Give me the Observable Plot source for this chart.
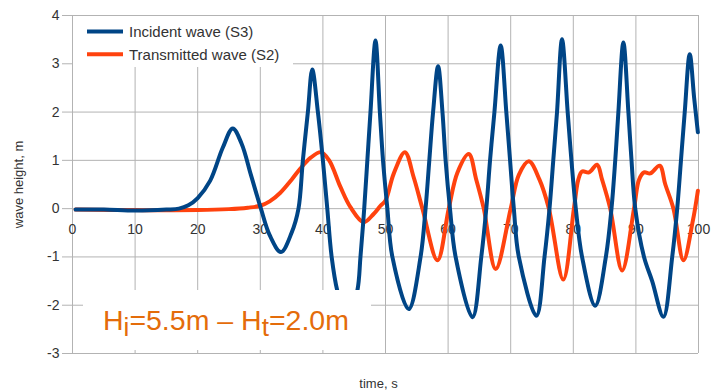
<!DOCTYPE html>
<html>
<head>
<meta charset="utf-8">
<script src="https://cdn.jsdelivr.net/npm/d3@7"></script>
<script src="https://cdn.jsdelivr.net/npm/@observablehq/plot@0.6"></script>
<style>
  body { margin: 0; background: #fff; }
  #chart { width: 713px; height: 391px; }
</style>
</head>
<body>
<div id="chart"></div>
<script>
// ---- data ----
const incidentTime = [0.5, 5, 10, 15, 17, 18.5, 20, 22, 24, 25.6, 27, 28.5, 30.1, 31.5, 33.3, 35, 36.1, 36.8, 37.6, 38.3, 39.2, 40.0, 40.7, 41.4, 42.3, 43.9, 45.5, 46.0, 46.6, 47.1, 47.6, 48.4, 49.1, 49.6, 50.3, 51.1, 53.7, 55.6, 56.4, 57.0, 57.6, 58.4, 59.1, 59.6, 60.3, 61.2, 63.9, 65.3, 66.1, 66.7, 67.4, 68.4, 69.3, 69.9, 70.5, 71.3, 74.1, 75.4, 76.2, 76.8, 77.4, 78.2, 79.1, 79.7, 80.4, 81.4, 83.5, 85.2, 86.1, 86.7, 87.2, 88.0, 88.8, 89.3, 89.9, 91.3, 92.6, 94.4, 95.8, 96.6, 97.2, 97.8, 98.6, 99.3, 99.9];
const incidentHeight = [-0.02, -0.02, -0.04, -0.02, 0.0, 0.07, 0.22, 0.58, 1.26, 1.66, 1.35, 0.7, 0.0, -0.55, -0.9, -0.5, 0, 1.0, 2.0, 2.88, 2.0, 1.0, 0, -1.0, -1.7, -2.35, -1.7, -1.0, 0, 1.0, 2.0, 3.48, 2.0, 1.0, 0, -1.0, -2.08, -1.0, 0, 1.0, 2.0, 2.95, 2.0, 1.0, 0, -1.0, -2.25, -1.0, 0, 1.0, 2.0, 3.38, 2.0, 1.0, 0, -1.0, -2.22, -1.0, 0, 1.0, 2.0, 3.51, 2.0, 1.0, 0, -1.0, -2.01, -1.0, 0, 1.0, 2.0, 3.44, 2.0, 1.0, 0, -1.0, -1.5, -2.24, -1.0, 0, 1.0, 2.0, 3.2, 2.3, 1.58];

const transmittedTime = [0.5, 10, 20, 25, 28, 30, 31.5, 33.2, 35, 36.4, 38, 39.7, 41, 42.8, 44.4, 46.5, 48.1, 49.2, 50, 51.3, 53.1, 54.5, 55.9, 58.3, 60.1, 61.5, 63.3, 64.5, 65.7, 67.6, 70.0, 71.3, 72.9, 74.6, 76.1, 78.4, 80.1, 80.8, 81.4, 82.5, 83.8, 84.6, 85.9, 87.8, 89.7, 90.5, 91.3, 92.3, 93.8, 94.7, 96.0, 97.6, 99.1, 99.9];
const transmittedHeight = [-0.02, -0.03, -0.03, -0.01, 0.02, 0.06, 0.15, 0.33, 0.6, 0.83, 1.05, 1.17, 1.0, 0.45, 0.03, -0.28, -0.11, 0.06, 0.17, 0.72, 1.17, 0.65, 0, -1.07, 0, 0.75, 1.13, 0.6, 0, -1.25, 0, 0.7, 0.98, 0.6, 0, -1.47, 0, 0.6, 0.77, 0.75, 0.91, 0.6, 0, -1.28, 0, 0.6, 0.75, 0.73, 0.89, 0.5, 0, -1.07, -0.25, 0.37];

const xTicks = [0, 10, 20, 30, 40, 50, 60, 70, 80, 90, 100];
const yTicks = [-3, -2, -1, 0, 1, 2, 3, 4];
const seriesNames = ["Incident wave (S3)", "Transmitted wave (S2)"];
const seriesColors = ["#004586", "#ff420e"];
const xTitle = "time, s";
const yTitle = "wave height, m";
const annotationParts = ["H", "i", "=5.5m – H", "t", "=2.0m"];

const incident = incidentTime.map((t, i) => ({t, v: incidentHeight[i]}));
const transmitted = transmittedTime.map((t, i) => ({t, v: transmittedHeight[i]}));

const FONT = "'Liberation Sans', Arial, sans-serif";

// legend + annotation boxes drawn as a custom render mark (on top of lines)
function overlays(index, scales, values, dimensions) {
  const g = d3.create("svg:g").attr("font-family", FONT).attr("text-anchor", "start");
  // legend box
  const lg = g.append("g");
  lg.append("rect").attr("x", 73).attr("y", 16).attr("width", 220).attr("height", 51).attr("fill", "#fff");
  seriesNames.forEach((name, i) => {
    const cy = 31.5 + i * 22.8;
    lg.append("line").attr("x1", 87).attr("x2", 123).attr("y1", cy).attr("y2", cy)
      .attr("stroke", seriesColors[i]).attr("stroke-width", 4);
    lg.append("text").attr("x", 129).attr("y", cy).attr("dy", "0.36em")
      .attr("text-anchor", "start")
      .attr("font-size", 15).attr("fill", "#333").text(name);
  });
  // annotation box
  const ag = g.append("g");
  ag.append("rect").attr("x", 83).attr("y", 290).attr("width", 288).attr("height", 60).attr("fill", "#fff");
  const t = ag.append("text").attr("x", 103).attr("y", 330).attr("text-anchor", "start")
    .attr("font-size", 28.5).attr("fill", "#e46c0a");
  annotationParts.forEach((p, i) => {
    const sub = i % 2 === 1;
    t.append("tspan")
      .attr("dy", sub ? 6 : (i === 0 ? 0 : -6))
      .attr("font-size", sub ? 26 : 28.5)
      .text(p);
  });
  return g.node();
}

const chart = Plot.plot({
  width: 713,
  height: 391,
  marginLeft: 72,
  marginRight: 15,
  marginTop: 15,
  marginBottom: 38,
  style: {fontFamily: FONT, fontSize: "14px", color: "#333", background: "#fff"},
  x: {domain: [0, 100], axis: null},
  y: {domain: [-3, 4]},
  marks: [
    Plot.gridX(xTicks, {stroke: "#b3b3b3", strokeOpacity: 1}),
    Plot.gridY(yTicks, {stroke: "#b3b3b3", strokeOpacity: 1}),
    Plot.axisY(yTicks, {tickSize: 10, tickPadding: 3, tickFormat: d => String(d), stroke: "#b3b3b3", fill: "#333", fontSize: 14, label: null}),
    Plot.text(xTicks, {x: d => d, y: () => 0, dy: 21, text: d => String(d), fill: "#333", fontSize: 14, lineAnchor: "middle"}),
    Plot.text([yTitle], {frameAnchor: "left", dx: -54, rotate: -90, text: d => d, textAnchor: "middle", lineAnchor: "middle", fill: "#333", fontSize: 13}),
    Plot.text([xTitle], {frameAnchor: "bottom", dx: -7, dy: 30, text: d => d, textAnchor: "middle", lineAnchor: "middle", fill: "#333", fontSize: 13}),
    Plot.line(transmitted, {x: "t", y: "v", stroke: seriesColors[1], strokeWidth: 4, curve: "catmull-rom"}),
    Plot.line(incident, {x: "t", y: "v", stroke: seriesColors[0], strokeWidth: 4, curve: "catmull-rom"}),
    overlays
  ]
});
document.getElementById("chart").appendChild(chart);
</script>
</body>
</html>
